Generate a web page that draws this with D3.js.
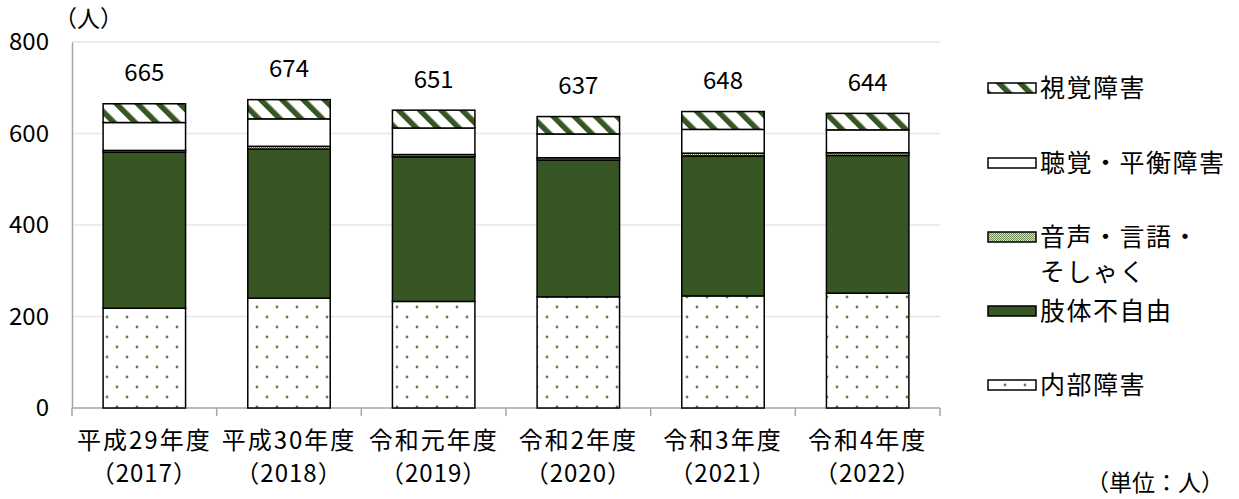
<!DOCTYPE html>
<html>
<head>
<meta charset="utf-8">
<script src="https://cdn.jsdelivr.net/npm/d3@7"></script>
<style>
  body { margin: 0; background: #fff; }
  text { font-family: "Noto Sans CJK JP", sans-serif; fill: #000; }
</style>
</head>
<body>
<div id="chart"></div>
<script>
// Categories (two-line labels)
const years = ["2017", "2018", "2019", "2020", "2021", "2022"];
const eraLabels = ["平成29年度", "平成30年度", "令和元年度", "令和2年度", "令和3年度", "令和4年度"];
const yearLabels = ["（2017）", "（2018）", "（2019）", "（2020）", "（2021）", "（2022）"];

// Series values (bottom to top)
const internal = [218, 240, 233, 243, 245, 251];
const physical = [341, 326, 316, 299, 306, 301];
const speech = [4, 6, 5, 5, 6, 6];
const hearing = [61, 60, 58, 52, 52, 50];
const visual = [41, 42, 39, 38, 39, 36];
const totals = [665, 674, 651, 637, 648, 644];

const yTicks = [0, 200, 400, 600, 800];

const keys = ["internal", "physical", "speech", "hearing", "visual"];
const seriesNames = {
    visual: "視覚障害",
    hearing: "聴覚・平衡障害",
    speech: ["音声・言語・", "そしゃく"],
    physical: "肢体不自由",
    internal: "内部障害"
};

const data = years.map((y, i) => ({
    year: y,
    internal: internal[i],
    physical: physical[i],
    speech: speech[i],
    hearing: hearing[i],
    visual: visual[i],
    total: totals[i]
}));

const W = 1239, H = 499;
const margin = {top: 42, left: 72};
const plotW = 868, plotH = 366;

const svg = d3.select("#chart").append("svg")
    .attr("width", W)
    .attr("height", H);

// Patterns
const defs = svg.append("defs");
const green = "#375623";

const stripes = defs.append("pattern")
    .attr("id", "pat-visual")
    .attr("patternUnits", "userSpaceOnUse")
    .attr("width", 15).attr("height", 15)
    .attr("patternTransform", "rotate(-45)");
stripes.append("rect").attr("width", 15).attr("height", 15).attr("fill", "#fff");
stripes.append("rect").attr("width", 5.5).attr("height", 15).attr("fill", green);

const stipple = defs.append("pattern")
    .attr("id", "pat-speech")
    .attr("patternUnits", "userSpaceOnUse")
    .attr("width", 2).attr("height", 2);
stipple.append("rect").attr("width", 2).attr("height", 2).attr("fill", "#d9e3cd");
stipple.append("rect").attr("width", 1).attr("height", 1).attr("fill", "#6f8b55");
stipple.append("rect").attr("x", 1).attr("y", 1).attr("width", 1).attr("height", 1).attr("fill", "#6f8b55");

const dots = defs.append("pattern")
    .attr("id", "pat-internal")
    .attr("patternUnits", "userSpaceOnUse")
    .attr("width", 20).attr("height", 20);
dots.append("rect").attr("width", 20).attr("height", 20).attr("fill", "#fff");
dots.append("circle").attr("cx", 5).attr("cy", 5).attr("r", 1.4).attr("fill", "#5d8242");
dots.append("circle").attr("cx", 15).attr("cy", 15).attr("r", 1.4).attr("fill", "#5d8242");

const fills = {
    visual: "url(#pat-visual)",
    hearing: "#fff",
    speech: "url(#pat-speech)",
    physical: green,
    internal: "url(#pat-internal)"
};

const g = svg.append("g").attr("transform", `translate(${margin.left},${margin.top})`);

// Scales
const x = d3.scaleBand()
    .domain(years)
    .range([0, plotW])
    .paddingInner(0.43)
    .paddingOuter(0.215);

const y = d3.scaleLinear()
    .domain([0, 800])
    .range([plotH, 0]);

// Gridlines
g.append("g")
    .selectAll("line")
    .data(yTicks.filter(d => d > 0))
    .join("line")
    .attr("x1", 0).attr("x2", plotW)
    .attr("y1", d => y(d)).attr("y2", d => y(d))
    .attr("stroke", "#e6e6e6")
    .attr("stroke-width", 1.5);

// Y axis
const yAxis = g.append("g")
    .call(d3.axisLeft(y).tickValues(yTicks).tickSize(0).tickPadding(23));
yAxis.select(".domain").attr("stroke", "#a6a6a6").attr("stroke-width", 1.5);
yAxis.selectAll("text")
    .style("font-family", "'Noto Sans CJK JP', sans-serif")
    .attr("font-size", 24);

// X axis line + boundary ticks
const step = x.step();
g.append("line")
    .attr("x1", 0).attr("x2", plotW)
    .attr("y1", plotH).attr("y2", plotH)
    .attr("stroke", "#a6a6a6").attr("stroke-width", 1.5);
g.append("g")
    .selectAll("line")
    .data(d3.range(years.length + 1))
    .join("line")
    .attr("x1", i => i * step).attr("x2", i => i * step)
    .attr("y1", plotH).attr("y2", plotH + 8)
    .attr("stroke", "#a6a6a6").attr("stroke-width", 1.5);

// Stacked bars
const stacked = d3.stack().keys(keys)(data);

g.selectAll(".layer")
    .data(stacked)
    .join("g")
    .attr("class", "layer")
    .attr("fill", d => fills[d.key])
    .selectAll("rect")
    .data(d => d)
    .join("rect")
    .attr("x", d => x(d.data.year))
    .attr("y", d => y(d[1]))
    .attr("width", x.bandwidth())
    .attr("height", d => y(d[0]) - y(d[1]))
    .attr("stroke", "#000")
    .attr("stroke-width", 1.5);

// Totals above bars
g.selectAll(".total")
    .data(data)
    .join("text")
    .attr("class", "total")
    .attr("x", d => x(d.year) + x.bandwidth() / 2)
    .attr("y", d => y(d.total) - 31)
    .attr("dy", "0.35em")
    .attr("text-anchor", "middle")
    .attr("font-size", 24)
    .text(d => d.total);

// Category labels
const catG = g.append("g");
years.forEach((yr, i) => {
    const cx = x(yr) + x.bandwidth() / 2;
    catG.append("text")
        .attr("x", cx).attr("y", plotH + 33)
        .attr("dy", "0.35em")
        .attr("text-anchor", "middle")
        .attr("font-size", 24)
        .attr("letter-spacing", 2)
        .text(eraLabels[i]);
    catG.append("text")
        .attr("x", cx).attr("y", plotH + 66)
        .attr("dy", "0.35em")
        .attr("text-anchor", "middle")
        .attr("font-size", 24)
        .attr("letter-spacing", 1)
        .text(yearLabels[i]);
});

// Unit labels
svg.append("text")
    .attr("x", 54).attr("y", 19)
    .attr("dy", "0.35em")
    .attr("font-size", 23)
    .text("（人）");

svg.append("text")
    .attr("x", 1224).attr("y", 483)
    .attr("dy", "0.35em")
    .attr("text-anchor", "end")
    .attr("font-size", 23)
    .text("（単位：人）");

// Legend
const legendItems = [
    {key: "visual", y: 88},
    {key: "hearing", y: 163},
    {key: "speech", y: 237},
    {key: "physical", y: 311},
    {key: "internal", y: 385}
];

const legend = svg.append("g");
legendItems.forEach(item => {
    legend.append("rect")
        .attr("x", 988).attr("y", item.y - 5)
        .attr("width", 48).attr("height", 10)
        .attr("fill", fills[item.key])
        .attr("stroke", "#000")
        .attr("stroke-width", 1.5);
    const name = seriesNames[item.key];
    const lines = Array.isArray(name) ? name : [name];
    lines.forEach((t, j) => {
        legend.append("text")
            .attr("x", 1040).attr("y", item.y + j * 35)
            .attr("dy", "0.35em")
            .attr("font-size", 25)
            .attr("letter-spacing", 1.5)
            .text(t);
    });
});
</script>
</body>
</html>
